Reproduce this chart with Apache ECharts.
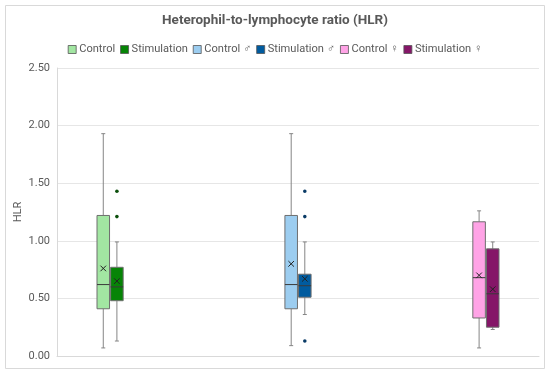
<!DOCTYPE html>
<html>
<head>
<meta charset="utf-8">
<script src="https://cdn.jsdelivr.net/npm/echarts@6/dist/echarts.min.js"></script>
<style>html,body{margin:0;padding:0;background:#fff;}#c{width:550px;height:374px;}</style>
</head>
<body>
<div id="c"></div>
<script>
// ---- data ----
const categories = ['', '', ''];
const seriesNames = ['Control', 'Stimulation', 'Control ♂', 'Stimulation ♂', 'Control ♀', 'Stimulation ♀'];
const seriesCategory = [0, 0, 1, 1, 2, 2];
// [min, Q1, median, Q3, max]
const controlStats = [0.07, 0.41, 0.62, 1.22, 1.93];
const stimulationStats = [0.13, 0.48, 0.60, 0.77, 0.99];
const controlMaleStats = [0.09, 0.41, 0.62, 1.22, 1.93];
const stimulationMaleStats = [0.36, 0.51, 0.61, 0.71, 0.99];
const controlFemaleStats = [0.07, 0.33, 0.68, 1.165, 1.26];
const stimulationFemaleStats = [0.23, 0.25, 0.54, 0.93, 0.99];
const means = [0.76, 0.65, 0.80, 0.67, 0.70, 0.58];
const controlOutliers = [];
const stimulationOutliers = [1.43, 1.21];
const controlMaleOutliers = [];
const stimulationMaleOutliers = [1.43, 1.21, 0.13];
const controlFemaleOutliers = [];
const stimulationFemaleOutliers = [];
const yTicks = [0, 0.5, 1.0, 1.5, 2.0, 2.5];

const allStats = [controlStats, stimulationStats, controlMaleStats, stimulationMaleStats, controlFemaleStats, stimulationFemaleStats];
const allOutliers = [controlOutliers, stimulationOutliers, controlMaleOutliers, stimulationMaleOutliers, controlFemaleOutliers, stimulationFemaleOutliers];
const fills = ['#a2e6a2', '#068406', '#9ccdf0', '#005b9f', '#ffa3e6', '#851668'];
const outlierColors = ['#0b4f0b', '#0b4f0b', '#0a3b66', '#0a3b66', '#5a0f45', '#5a0f45'];
const boxBorder = '#6e6e6e';
const whiskerColor = '#858585';

const FONT = 'Roboto, "Noto Sans", sans-serif';

function boxRenderer(si) {
  return function (params, api) {
    const cat = api.value(0);
    const cx = api.coord([cat, 0])[0];
    const band = api.size([1, 0])[0];
    const step = band * 0.0848;
    const w = band * 0.078;
    const xc = cx + (si - 2.5) * step;
    const x0 = xc - w / 2;
    const yMin = api.coord([cat, api.value(1)])[1];
    const yQ1 = api.coord([cat, api.value(2)])[1];
    const yMed = api.coord([cat, api.value(3)])[1];
    const yQ3 = api.coord([cat, api.value(4)])[1];
    const yMax = api.coord([cat, api.value(5)])[1];
    const yMean = api.coord([cat, api.value(6)])[1];
    const cap = 2;
    const ls = {stroke: whiskerColor, lineWidth: 1};
    const m = 2.8;
    return {
      type: 'group',
      children: [
        {type: 'line', shape: {x1: xc, y1: yMax, x2: xc, y2: yQ3}, style: ls},
        {type: 'line', shape: {x1: xc, y1: yQ1, x2: xc, y2: yMin}, style: ls},
        {type: 'line', shape: {x1: xc - cap, y1: yMax, x2: xc + cap, y2: yMax}, style: ls},
        {type: 'line', shape: {x1: xc - cap, y1: yMin, x2: xc + cap, y2: yMin}, style: ls},
        {type: 'rect', shape: {x: x0, y: yQ3, width: w, height: yQ1 - yQ3},
          style: {fill: fills[si], stroke: boxBorder, lineWidth: 1}},
        {type: 'line', shape: {x1: x0, y1: yMed, x2: x0 + w, y2: yMed}, style: {stroke: '#3a3a3a', lineWidth: 1}},
        {type: 'line', shape: {x1: xc - m, y1: yMean - m, x2: xc + m, y2: yMean + m}, style: {stroke: '#222', lineWidth: 1}},
        {type: 'line', shape: {x1: xc - m, y1: yMean + m, x2: xc + m, y2: yMean - m}, style: {stroke: '#222', lineWidth: 1}}
      ]
    };
  };
}
function outlierRenderer(si) {
  return function (params, api) {
    const cat = api.value(0);
    const cx = api.coord([cat, 0])[0];
    const band = api.size([1, 0])[0];
    const step = band * 0.0848;
    const xc = cx + (si - 2.5) * step;
    const y = api.coord([cat, api.value(1)])[1];
    return {type: 'circle', shape: {cx: xc, cy: y, r: 1.8}, style: {fill: outlierColors[si]}};
  };
}

const series = [];
seriesNames.forEach(function (name, i) {
  const s = allStats[i];
  series.push({
    name: name,
    type: 'custom',
    renderItem: boxRenderer(i),
    itemStyle: {color: fills[i]},
    encode: {x: 0, y: [1, 2, 3, 4, 5, 6]},
    data: [[seriesCategory[i], s[0], s[1], s[2], s[3], s[4], means[i]]],
    z: 2
  });
  series.push({
    type: 'custom',
    renderItem: outlierRenderer(i),
    encode: {x: 0, y: 1},
    data: allOutliers[i].map(function (v) { return [seriesCategory[i], v]; }),
    z: 3
  });
});

const chart = echarts.init(document.getElementById('c'));
chart.setOption({
  animation: false,
  backgroundColor: '#fff',
  title: {
    text: 'Heterophil-to-lymphocyte ratio (HLR)',
    left: 'center', top: 9,
    textStyle: {fontFamily: FONT, fontSize: 13.5, fontWeight: 'bold', color: '#595959'}
  },
  legend: {
    top: 39, left: 'center',
    icon: 'rect', itemWidth: 8, itemHeight: 8, itemGap: 5,
    textStyle: {fontFamily: FONT, fontSize: 11.1, color: '#595959', padding: [0, 0, 0, -2]},
    data: seriesNames.map(function (n, i) {
      return {name: n, itemStyle: {color: fills[i], borderColor: '#555', borderWidth: 0.8}};
    })
  },
  graphic: [{
    type: 'rect', shape: {x: 5.5, y: 5.5, width: 539, height: 363},
    style: {fill: 'none', stroke: '#d9d9d9', lineWidth: 1}, silent: true, z: -1
  }],
  grid: {left: 57, right: 11, top: 68, bottom: 18},
  xAxis: {
    type: 'category', data: categories,
    axisLine: {show: true, lineStyle: {color: '#d9d9d9'}},
    axisTick: {show: false}, axisLabel: {show: false}, splitLine: {show: false}
  },
  yAxis: {
    type: 'value', min: yTicks[0], max: yTicks[yTicks.length - 1], interval: 0.5,
    name: 'HLR', nameLocation: 'middle', nameRotate: 90, nameGap: 33,
    nameMoveOverlap: false,
    nameTextStyle: {fontFamily: FONT, fontSize: 11, color: '#595959'},
    axisLine: {show: true, lineStyle: {color: '#d9d9d9'}},
    axisTick: {show: false},
    axisLabel: {fontFamily: FONT, fontSize: 11, color: '#595959', margin: 7,
      formatter: function (v) { return v.toFixed(2); }},
    splitLine: {lineStyle: {color: '#e6e6e6'}}
  },
  series: series
});
</script>
</body>
</html>
